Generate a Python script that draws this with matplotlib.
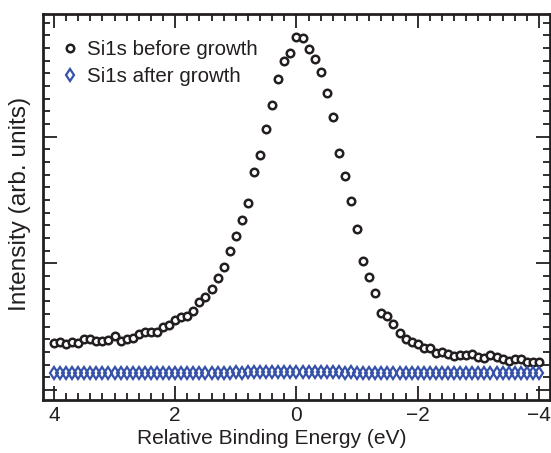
import numpy as np
import matplotlib

matplotlib.use("Agg")
import matplotlib.pyplot as plt
from matplotlib.ticker import MultipleLocator

plt.rcParams["font.family"] = ["Liberation Sans", "DejaVu Sans"]

# relative binding energy grid (eV), 0.1 eV steps
energy = np.round(np.linspace(4.0, -4.0, 81), 2)

# Si1s before growth (arb. units, major tick = 1)
before = [
    0.373, 0.377, 0.366, 0.381, 0.373, 0.403, 0.400, 0.387, 0.384, 0.392,
    0.426, 0.387, 0.400, 0.413, 0.442, 0.460, 0.458, 0.456, 0.495, 0.516,
    0.553, 0.576, 0.584, 0.626, 0.692, 0.732, 0.800, 0.887, 0.973, 1.095,
    1.218, 1.340, 1.479, 1.721, 1.855, 2.063, 2.248, 2.453, 2.600, 2.658,
    2.789, 2.777, 2.690, 2.611, 2.513, 2.347, 2.158, 1.869, 1.689, 1.494,
    1.269, 1.021, 0.894, 0.768, 0.606, 0.584, 0.519, 0.448, 0.403, 0.381,
    0.361, 0.329, 0.329, 0.294, 0.300, 0.284, 0.271, 0.276, 0.276, 0.284,
    0.258, 0.250, 0.276, 0.258, 0.245, 0.231, 0.242, 0.247, 0.223, 0.219,
    0.221,
]

# Si1s after growth
after = [
    0.132, 0.133, 0.132, 0.133, 0.133, 0.134, 0.133, 0.134, 0.134, 0.134,
    0.135, 0.134, 0.135, 0.135, 0.135, 0.136, 0.135, 0.136, 0.136, 0.136,
    0.137, 0.136, 0.137, 0.137, 0.137, 0.138, 0.137, 0.138, 0.138, 0.138,
    0.139, 0.138, 0.139, 0.139, 0.139, 0.139, 0.140, 0.139, 0.140, 0.140,
    0.140, 0.140, 0.140, 0.139, 0.140, 0.139, 0.139, 0.139, 0.138, 0.139,
    0.138, 0.138, 0.138, 0.137, 0.138, 0.137, 0.137, 0.136, 0.137, 0.136,
    0.136, 0.136, 0.135, 0.135, 0.135, 0.135, 0.134, 0.135, 0.134, 0.134,
    0.134, 0.133, 0.134, 0.133, 0.133, 0.133, 0.132, 0.133, 0.132, 0.132,
    0.132,
]

ink = "#231f20"
blue = "#3551a8"

fig = plt.figure(figsize=(5.51, 4.53), dpi=100)
ax = fig.add_axes([0.078, 0.117, 0.920, 0.852])

ax.plot(energy, before, "o", ms=5.4, mfc="white", mec=ink, mew=1.8,
        label="Si1s before growth")
ax.plot(energy, after, "d", ms=6.0, mfc="none", mec=blue, mew=1.6,
        label="Si1s after growth")

ax.set_xlim(4.18, -4.18)
ax.set_ylim(-0.079, 2.968)

ax.xaxis.set_minor_locator(MultipleLocator(0.2))
ax.yaxis.set_major_locator(MultipleLocator(1))
ax.yaxis.set_minor_locator(MultipleLocator(0.1))
ax.set_xticks([4, 2, 0, -2, -4])
ax.set_xticklabels(["4", "2", "0", "\u22122", "\u22124"])
ax.tick_params(which="both", direction="in", top=True, right=True,
               width=1.3, color=ink, labelcolor=ink)
ax.tick_params(which="major", length=10, labelsize=15, pad=4)
ax.tick_params(which="minor", length=5)
ax.tick_params(axis="y", which="major", labelleft=False)
for s in ax.spines.values():
    s.set_linewidth(2)
    s.set_color(ink)

ax.set_xlabel("Relative Binding Energy (eV)", fontsize=15.1, color=ink)
ax.xaxis.set_label_coords(0.452, -0.074)
ax.set_ylabel("Intensity (arb. units)", fontsize=17.6, color=ink)
ax.yaxis.set_label_coords(-0.024, 0.509)

ax.legend(loc="upper left", bbox_to_anchor=(0.037, 0.932), frameon=False,
          fontsize=14.8, handlelength=0.8, handletextpad=0.43,
          borderaxespad=0, borderpad=0, labelspacing=0.38, labelcolor=ink)

fig.savefig("out.png", dpi=100)
